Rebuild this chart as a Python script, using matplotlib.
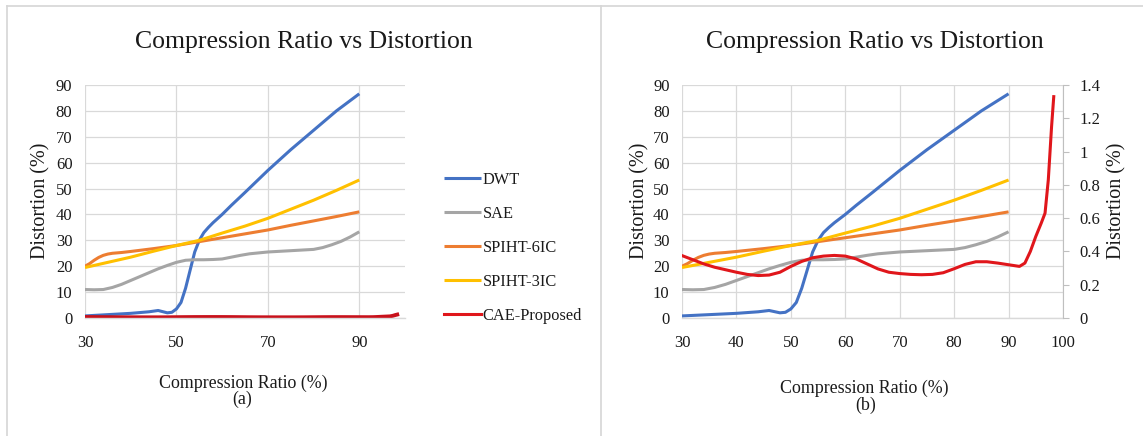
import numpy as np
import matplotlib
matplotlib.use("Agg")
import matplotlib.pyplot as plt
from matplotlib.lines import Line2D

plt.rcParams['font.family'] = ['Liberation Serif', 'DejaVu Serif']

# compression ratio (%) vs distortion (%) for each method
dwt_x = [30, 35, 40, 44, 46, 48, 49, 50, 51, 52, 53, 54, 55, 56, 57, 58, 60, 62, 65, 70, 75, 80, 85, 90]
dwt_y = [0.8, 1.3, 1.8, 2.4, 2.9, 2.0, 2.2, 3.5, 6.0, 11.5, 18.5, 25.5, 30.0, 33.0, 35.0, 36.8, 40.0, 43.5, 48.5, 57.0, 65.0, 72.5, 80.0, 86.6]

sae_x = [30, 32, 34, 36, 38, 40, 42, 44, 46, 48, 50, 52, 54, 56, 58, 60, 62, 64, 66, 70, 75, 80, 82, 84, 86, 88, 90]
sae_y = [11, 10.9, 11, 11.8, 13, 14.5, 16, 17.5, 19, 20.3, 21.5, 22.3, 22.5, 22.5, 22.6, 22.8, 23.5, 24.2, 24.8, 25.5, 26, 26.5, 27.2, 28.3, 29.6, 31.3, 33.3]

spiht6_x = [30, 31, 32, 33, 34, 35, 36, 38, 40, 45, 50, 55, 60, 65, 70, 75, 80, 85, 90]
spiht6_y = [20, 21, 22.3, 23.4, 24.2, 24.7, 25, 25.3, 25.7, 26.8, 28, 29.5, 31, 32.5, 34, 35.8, 37.5, 39.2, 41]

spiht3_x = [30, 35, 40, 45, 50, 55, 60, 65, 70, 75, 80, 85, 90]
spiht3_y = [19.5, 21.5, 23.5, 25.8, 28, 30, 32.8, 35.5, 38.5, 42, 45.5, 49.3, 53.3]

cae_x = [30, 32, 34, 36, 38, 40, 42, 44, 46, 48, 50, 52, 54, 56, 58, 60, 62, 64, 66, 68, 70, 72, 74, 76, 78, 80,
         82, 84, 86, 88, 90, 92, 93, 94, 95, 96, 96.7, 97.3, 97.9, 98.3]
cae_y = [0.375, 0.35, 0.325, 0.305, 0.29, 0.275, 0.262, 0.255, 0.258, 0.275, 0.31, 0.34, 0.362, 0.372, 0.376, 0.372,
         0.355, 0.325, 0.295, 0.275, 0.267, 0.262, 0.26, 0.262, 0.272, 0.296, 0.322, 0.338, 0.338, 0.33, 0.32, 0.31,
         0.33, 0.4, 0.49, 0.57, 0.63, 0.83, 1.15, 1.33]

labels = ['DWT', 'SAE', 'SPIHT-6IC', 'SPIHT-3IC', 'CAE-Proposed']
colors = ['#4472c4', '#a5a5a5', '#ed7d31', '#ffc000', '#e0161b']

W, H = 1143, 436
fig = plt.figure(figsize=(W / 100, H / 100), dpi=100)
txt = '#1a1a1a'
grid = '#d9d9d9'
lw = 2.2


def px_axes(x0, y0, x1, y1):
    return fig.add_axes([x0 / W, 1 - y1 / H, (x1 - x0) / W, (y1 - y0) / H])


def style(ax, xticks):
    ax.set_xlim(30, 100)
    ax.set_ylim(0, 90)
    ax.set_xticks(xticks)
    ax.set_yticks(range(0, 91, 10))
    ax.grid(True, color=grid, lw=0.9)
    ax.set_axisbelow(True)
    for s in ['top', 'left', 'right']:
        ax.spines[s].set_visible(False)
    ax.spines['bottom'].set_color(grid)
    ax.spines['bottom'].set_linewidth(1.0)
    ax.tick_params(axis='both', length=0, labelsize=12, labelcolor=txt)
    ax.tick_params(axis='y', pad=9)
    ax.tick_params(axis='x', pad=12)


series = [(dwt_x, dwt_y), (sae_x, sae_y), (spiht6_x, spiht6_y), (spiht3_x, spiht3_y)]

# (a) all methods on one axis
ax1 = px_axes(85, 85, 405, 318)
style(ax1, [30, 50, 70, 90])
handles = []
for (x, y), c, lab in zip(series, colors, labels):
    h, = ax1.plot(x, y, color=c, lw=lw, solid_capstyle='butt', label=lab)
    handles.append(h)
ax1.plot(cae_x, cae_y, color='#c8101a', lw=lw + 0.6, label=labels[4])
handles.append(Line2D([], [], color=colors[4], lw=lw))

fig.legend(handles, labels, loc='center left', bbox_to_anchor=(444 / W, 1 - 248 / H),
           frameon=False, fontsize=11.8, handlelength=2.25, handletextpad=0.12,
           labelspacing=1.1, borderpad=0, borderaxespad=0, labelcolor=txt)

# (b) proposed method on a secondary axis
ax2 = px_axes(682, 85, 1063, 318)
style(ax2, range(30, 101, 10))
for (x, y), c in zip(series, colors):
    ax2.plot(x, y, color=c, lw=lw, solid_capstyle='butt')
ax3 = ax2.twinx()
ax3.plot(cae_x, cae_y, color=colors[4], lw=lw)
ax3.set_ylim(0, 1.4)
ax3.set_yticks(np.arange(0, 1.41, 0.2))
ax3.set_yticklabels(['0', '0.2', '0.4', '0.6', '0.8', '1', '1.2', '1.4'])
for s in ['top', 'left', 'bottom']:
    ax3.spines[s].set_visible(False)
ax3.spines['right'].set_color('#bfbfbf')
ax3.tick_params(axis='y', length=4, color='#bfbfbf', labelsize=12, labelcolor=txt, pad=8)

# titles and axis titles
for cx, ttl in [(304, 'Compression Ratio vs Distortion'), (875, 'Compression Ratio vs Distortion')]:
    fig.text(cx / W, 1 - 42 / H, ttl, ha='center', va='center', fontsize=18.5, color=txt)

fig.text(243 / W, 1 - 383 / H, 'Compression Ratio (%)', ha='center', va='center', fontsize=12.9, color=txt)
fig.text(242 / W, 1 - 399 / H, '(a)', ha='center', va='center', fontsize=12.9, color=txt)
fig.text(864 / W, 1 - 388 / H, 'Compression Ratio (%)', ha='center', va='center', fontsize=12.9, color=txt)
fig.text(866 / W, 1 - 405 / H, '(b)', ha='center', va='center', fontsize=12.9, color=txt)

for lx in [41, 640, 1117]:
    fig.text(lx / W, 1 - 201 / H, 'Distortion (%)', ha='center', va='center', rotation=90,
             fontsize=14.5, color=txt)

# panel frames
frame = '#d6d6d6'
fig.add_artist(Line2D([7 / W, 1], [1 - 6 / H] * 2, color=frame, lw=1.2, transform=fig.transFigure))
for fx in [7, 601]:
    fig.add_artist(Line2D([fx / W] * 2, [0, 1 - 6 / H], color=frame, lw=1.2, transform=fig.transFigure))

fig.savefig('out.png', dpi=100, facecolor='white')
